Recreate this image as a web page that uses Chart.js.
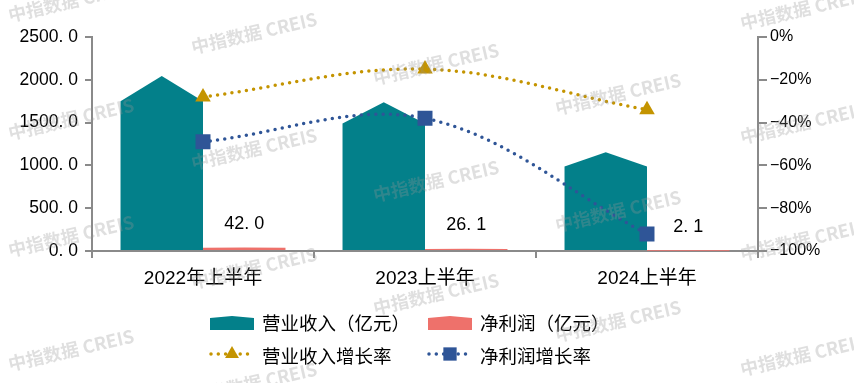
<!DOCTYPE html>
<html><head><meta charset="utf-8">
<script src="https://cdn.jsdelivr.net/npm/chart.js@4/dist/chart.umd.min.js"></script>
<style>html,body{margin:0;padding:0;background:#fff;}#wrap{width:854px;height:383px;position:relative}</style>
</head><body><div id="wrap"><canvas id="c" width="854" height="383"></canvas></div>
<script>
const categories = ['2022年上半年', '2023上半年', '2024上半年'];
const revenue = [2045, 1739, 1153];
const netProfit = [42.0, 26.1, 2.1];
const revenueGrowth = [-28, -15, -34];
const profitGrowth = [-49, -38, -92];
const leftTicks = [0, 500, 1000, 1500, 2000, 2500];
const rightTicks = [-100, -80, -60, -40, -20, 0];
const seriesNames = ['营业收入（亿元）', '净利润（亿元）', '营业收入增长率', '净利润增长率'];
const watermarkText = '中指数据 CREIS';

const TEAL = '#03808A', SALMON = '#EE716B', GOLD = '#C49400', BLUE = '#2F5597', AXIS = '#8A8A8A';
const LATIN = '"Liberation Sans", Arial, sans-serif';
const CJK = '"Liberation Sans", "Noto Sans CJK SC", sans-serif';

function fmt(v) { return Number(v).toFixed(1).replace('.', '. '); }
function pct(v) { return (v < 0 ? '\u2212' : '') + Math.abs(v) + '%'; }

function pentagon(ctx, left, right, base, top, shoulder) {
  const cx = (left + right) / 2;
  ctx.beginPath();
  ctx.moveTo(left, base);
  ctx.lineTo(left, shoulder);
  ctx.lineTo(cx, top);
  ctx.lineTo(right, shoulder);
  ctx.lineTo(right, base);
  ctx.closePath();
  ctx.fill();
}

const pentagonBars = {
  id: 'pentagonBars',
  beforeDatasetDraw(chart, args) {
    const meta = args.meta;
    if (meta.type !== 'bar') return;
    const ctx = chart.ctx;
    const ds = chart.data.datasets[args.index];
    ctx.save();
    ctx.fillStyle = ds.backgroundColor;
    meta.data.forEach(el => {
      const p = el.getProps(['x', 'y', 'base', 'width'], true);
      const h = p.base - p.y;
      pentagon(ctx, p.x - p.width / 2, p.x + p.width / 2, p.base, p.y, p.base - h * 0.855);
    });
    ctx.restore();
    return false;
  }
};

const dataLabels = {
  id: 'dataLabels',
  afterDatasetsDraw(chart) {
    const ctx = chart.ctx;
    const meta = chart.getDatasetMeta(1);
    ctx.save();
    ctx.font = '18px ' + LATIN;
    ctx.fillStyle = '#000';
    ctx.textAlign = 'center';
    ctx.textBaseline = 'middle';
    meta.data.forEach((el, i) => {
      ctx.fillText(fmt(netProfit[i]), el.x, el.y - 23.5);
    });
    ctx.restore();
  }
};

function marker(ctx, style, cx, cy, r, color) {
  ctx.fillStyle = color;
  ctx.beginPath();
  if (style === 'triangle') {
    for (let k = 0; k < 3; k++) {
      const a = k * 2 * Math.PI / 3;
      const px = cx + Math.sin(a) * r, py = cy - Math.cos(a) * r;
      k ? ctx.lineTo(px, py) : ctx.moveTo(px, py);
    }
    ctx.closePath();
  } else {
    const s = r * Math.SQRT1_2;
    ctx.rect(cx - s, cy - s, 2 * s, 2 * s);
  }
  ctx.fill();
}

const customLegend = {
  id: 'customLegend',
  afterDraw(chart) {
    const ctx = chart.ctx;
    const ds = chart.data.datasets;
    const items = [
      { i: 0, x: 210, y: 323 }, { i: 1, x: 428, y: 323 },
      { i: 2, x: 210, y: 354 }, { i: 3, x: 428, y: 354 }
    ];
    ctx.save();
    items.forEach(it => {
      const d = ds[it.i];
      if (d.type === 'bar') {
        ctx.fillStyle = d.backgroundColor;
        pentagon(ctx, it.x, it.x + 44, it.y + 7, it.y - 7, it.y - 5);
      } else {
        ctx.save();
        ctx.strokeStyle = d.borderColor;
        ctx.lineWidth = 3.5;
        ctx.lineCap = 'round';
        ctx.setLineDash([0, 7.3]);
        ctx.beginPath();
        ctx.moveTo(it.x + 1, it.y);
        ctx.lineTo(it.x + 42, it.y);
        ctx.stroke();
        ctx.restore();
        marker(ctx, d.pointStyle, it.x + 22, it.y, d.pointStyle === 'triangle' ? 8 : 9.4, d.pointBackgroundColor);
      }
      ctx.fillStyle = '#000';
      ctx.font = '18.5px "Noto Sans CJK SC", sans-serif';
      ctx.textAlign = 'left';
      ctx.textBaseline = 'middle';
      ctx.fillText(d.label, it.x + 52, it.y + (d.type === 'bar' ? 0 : 1.5));
    });
    ctx.restore();
  }
};

const watermark = {
  id: 'watermark',
  afterDraw(chart) {
    const ctx = chart.ctx;
    const cols = [
      [10, [25, 143, 260, 374]],
      [193, [-60, 57, 173, 292, 407]],
      [375, [-28, 88, 205, 318]],
      [557, [1, 118, 235, 345]],
      [742, [33, 147, 264, 379]]
    ];
    ctx.save();
    ctx.font = 'bold 18px "Noto Sans CJK SC", sans-serif';
    ctx.fillStyle = 'rgba(150,150,150,0.3)';
    ctx.textBaseline = 'alphabetic';
    cols.forEach(([x, ys]) => ys.forEach(y => {
      ctx.save();
      ctx.translate(x, y - 3);
      ctx.rotate(-13 * Math.PI / 180);
      ctx.fillText(watermarkText, 0, 0);
      ctx.restore();
    }));
    ctx.restore();
  }
};

new Chart(document.getElementById('c'), {
  data: {
    labels: categories,
    datasets: [
      { type: 'bar', label: seriesNames[0], data: revenue, backgroundColor: TEAL, yAxisID: 'y', order: 2,
        categoryPercentage: 0.743, barPercentage: 1 },
      { type: 'bar', label: seriesNames[1], data: netProfit, backgroundColor: SALMON, yAxisID: 'y', order: 2,
        categoryPercentage: 0.743, barPercentage: 1 },
      { type: 'line', label: seriesNames[2], data: revenueGrowth, yAxisID: 'y1', order: 1,
        borderColor: GOLD, borderWidth: 3.5, borderDash: [0, 7.3], borderCapStyle: 'round',
        tension: 0.35, fill: false, pointStyle: 'triangle', pointRadius: 9, pointBorderWidth: 0,
        pointBackgroundColor: GOLD, pointBorderColor: GOLD },
      { type: 'line', label: seriesNames[3], data: profitGrowth, yAxisID: 'y1', order: 1,
        borderColor: BLUE, borderWidth: 3.5, borderDash: [0, 7.3], borderCapStyle: 'round',
        tension: 0.35, fill: false, pointStyle: 'rect', pointRadius: 10.6, pointBorderWidth: 0,
        pointBackgroundColor: BLUE, pointBorderColor: BLUE }
    ]
  },
  options: {
    responsive: false,
    animation: false,
    layout: { padding: { top: 37, left: 0, right: 0, bottom: 0 } },
    plugins: { legend: { display: false }, tooltip: { enabled: false } },
    scales: {
      x: {
        offset: true,
        grid: { offset: true, drawOnChartArea: false, tickLength: 7, color: AXIS, lineWidth: 2 },
        border: { color: AXIS, width: 2 },
        ticks: { color: '#000', font: { family: CJK, size: 19 }, padding: 9, maxRotation: 0 },
        afterFit(s) { s.height = 132; }
      },
      y: {
        position: 'left', min: 0, max: 2500,
        afterBuildTicks(s) { s.ticks = leftTicks.map(v => ({ value: v })); },
        grid: { drawOnChartArea: false, tickLength: 7, color: AXIS, lineWidth: 2 },
        border: { color: AXIS, width: 2 },
        ticks: { color: '#000', font: { family: LATIN, size: 17.5 }, padding: 7, callback: v => fmt(v) },
        afterFit(s) { s.width = 92; }
      },
      y1: {
        position: 'right', min: -100, max: 0,
        afterBuildTicks(s) { s.ticks = rightTicks.map(v => ({ value: v })); },
        grid: { drawOnChartArea: false, tickLength: 9, color: AXIS, lineWidth: 2 },
        border: { color: AXIS, width: 2 },
        ticks: { color: '#000', font: { family: LATIN, size: 16 }, padding: 3, callback: v => pct(v) },
        afterFit(s) { s.width = 96; }
      }
    }
  },
  plugins: [pentagonBars, dataLabels, customLegend, watermark]
});
</script>
</body></html>
